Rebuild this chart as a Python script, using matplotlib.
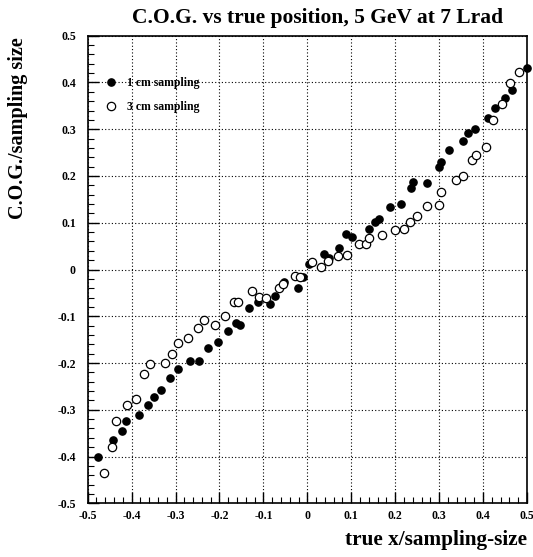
import numpy as np
import matplotlib
matplotlib.use("Agg")
import matplotlib.pyplot as plt
from matplotlib.ticker import MultipleLocator, FixedLocator, FixedFormatter

# ── Data ──────────────────────────────────────────────────────────────────────
x_1cm = [-0.476, -0.443, -0.423, -0.413, -0.384, -0.362, -0.348, -0.333, -0.312,
         -0.294, -0.267, -0.246, -0.226, -0.203, -0.181, -0.162, -0.153, -0.133,
         -0.113, -0.084, -0.073, -0.054, -0.021, -0.009, 0.004, 0.038, 0.050,
         0.072, 0.088, 0.101, 0.140, 0.155, 0.164, 0.188, 0.213, 0.236, 0.241,
         0.273, 0.300, 0.304, 0.322, 0.355, 0.366, 0.381, 0.411, 0.427, 0.451,
         0.465, 0.499]
y_1cm = [-0.400, -0.365, -0.346, -0.323, -0.311, -0.289, -0.272, -0.258, -0.232,
         -0.213, -0.196, -0.196, -0.167, -0.154, -0.132, -0.114, -0.119, -0.083,
         -0.069, -0.074, -0.057, -0.027, -0.039, -0.015, 0.012, 0.033, 0.024,
         0.045, 0.075, 0.069, 0.087, 0.101, 0.107, 0.134, 0.141, 0.174, 0.188,
         0.184, 0.219, 0.229, 0.256, 0.274, 0.291, 0.301, 0.323, 0.346, 0.366,
         0.383, 0.430]

x_3cm = [-0.463, -0.445, -0.435, -0.410, -0.390, -0.371, -0.358, -0.323, -0.309,
         -0.294, -0.272, -0.250, -0.236, -0.210, -0.187, -0.166, -0.158, -0.127,
         -0.110, -0.093, -0.065, -0.056, -0.029, -0.017, 0.010, 0.031, 0.046,
         0.069, 0.091, 0.117, 0.134, 0.141, 0.169, 0.199, 0.219, 0.234, 0.250,
         0.273, 0.300, 0.304, 0.338, 0.355, 0.374, 0.385, 0.407, 0.423, 0.443,
         0.461, 0.481]
y_3cm = [-0.436, -0.380, -0.324, -0.290, -0.277, -0.224, -0.202, -0.199, -0.180,
         -0.157, -0.146, -0.125, -0.108, -0.118, -0.100, -0.069, -0.069, -0.045,
         -0.059, -0.061, -0.040, -0.032, -0.013, -0.015, 0.015, 0.006, 0.018,
         0.029, 0.032, 0.054, 0.054, 0.067, 0.074, 0.085, 0.086, 0.102, 0.115,
         0.136, 0.139, 0.166, 0.191, 0.201, 0.234, 0.245, 0.261, 0.319, 0.353,
         0.398, 0.422]

TICKS = [-0.5, -0.4, -0.3, -0.2, -0.1, 0.0, 0.1, 0.2, 0.3, 0.4, 0.5]
TICK_LABELS = ["-0.5", "-0.4", "-0.3", "-0.2", "-0.1", "0",
               "0.1", "0.2", "0.3", "0.4", "0.5"]

# ── Style ─────────────────────────────────────────────────────────────────────
plt.rcParams["font.family"] = ["Liberation Serif", "DejaVu Serif"]
plt.rcParams["font.weight"] = "bold"

fig = plt.figure(figsize=(5.33, 5.57), dpi=100)
ax = fig.add_axes([0.1645, 0.0964, 0.8242, 0.8395])

ax.plot(x_1cm, y_1cm, "o", color="black", markersize=5.2, linestyle="none",
        label="1 cm sampling", clip_on=False, zorder=3)
ax.plot(x_3cm, y_3cm, "o", markerfacecolor="white", markeredgecolor="black",
        markeredgewidth=0.9, markersize=6, linestyle="none",
        label="3 cm sampling", clip_on=False, zorder=3)

ax.set_xlim(-0.5, 0.5)
ax.set_ylim(-0.5, 0.5)

for axis in (ax.xaxis, ax.yaxis):
    axis.set_major_locator(FixedLocator(TICKS))
    axis.set_major_formatter(FixedFormatter(TICK_LABELS))
    axis.set_minor_locator(MultipleLocator(0.02))

ax.tick_params(which="major", direction="in", length=8, width=1,
               labelsize=8.5, top=False, right=False)
ax.tick_params(axis="x", which="major", pad=5)
ax.tick_params(axis="y", which="major", pad=8.5)
ax.tick_params(which="minor", direction="in", length=4, width=0.8,
               top=False, right=False)
for lbl in ax.get_xticklabels() + ax.get_yticklabels():
    lbl.set_fontweight("bold")

ax.grid(True, which="major", color="black", linestyle=(0, (1, 2)), linewidth=0.8)
for sp in ax.spines.values():
    sp.set_linewidth(1.2)

leg = ax.legend(loc="upper left", bbox_to_anchor=(0.028, 0.922), frameon=False,
                fontsize=8.5, handlelength=1.0, handletextpad=0.85,
                labelspacing=1.05, borderaxespad=0)
for t in leg.get_texts():
    t.set_fontweight("bold")

fig.text(0.595, 0.968, "C.O.G. vs true position, 5 GeV at 7 Lrad",
         ha="center", va="center", fontsize=15.5, fontweight="bold")
fig.text(0.034, 0.77, "C.O.G./sampling size", rotation=90,
         ha="center", va="center", fontsize=14.5, fontweight="bold")
fig.text(0.988, 0.030, "true x/sampling-size",
         ha="right", va="center", fontsize=15.3, fontweight="bold")

plt.savefig("out.png", dpi=100)
plt.close()
